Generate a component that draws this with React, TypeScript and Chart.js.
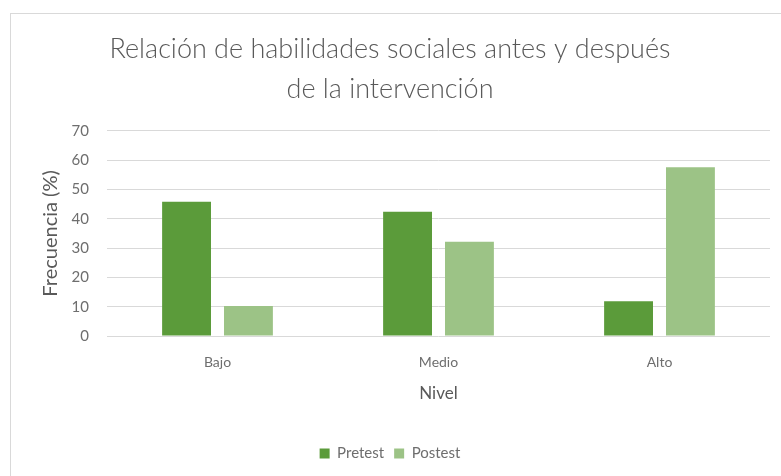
import React, { useEffect, useRef } from "react";
import { Chart, registerables } from "chart.js";

Chart.register(...registerables);

const categories = ["Bajo", "Medio", "Alto"];
const pretest = [45.8, 42.4, 11.9];
const postest = [10.2, 32.2, 57.6];
const yTicks = [0, 10, 20, 30, 40, 50, 60, 70];
const titleLines = ["Relación de habilidades sociales antes y después", "de la intervención"];

const TEXT = "#595959";
const TICK = "#6E6E6E";
const GRID = "#D9D9D9";
const FONT = "Lato, 'Open Sans', sans-serif";

export default function App() {
  const ref = useRef<HTMLCanvasElement | null>(null);

  useEffect(() => {
    if (!ref.current) return;
    const chart = new Chart(ref.current, {
      type: "bar",
      data: {
        labels: categories,
        datasets: [
          {
            label: "Pretest",
            data: pretest,
            backgroundColor: "#5B9B3A",
            categoryPercentage: 0.56,
            barPercentage: 0.79,
          },
          {
            label: "Postest",
            data: postest,
            backgroundColor: "#9CC386",
            categoryPercentage: 0.56,
            barPercentage: 0.79,
          },
        ],
      },
      options: {
        animation: false,
        responsive: true,
        maintainAspectRatio: false,
        layout: { padding: { left: 10, right: 11, top: 14, bottom: 5 } },
        plugins: {
          title: {
            display: true,
            text: titleLines,
            color: TEXT,
            font: { family: FONT, size: 27, weight: 300, lineHeight: 1.48 },
            padding: { top: 15, bottom: 22 },
          },
          legend: {
            position: "bottom",
            labels: {
              color: TICK,
              font: { family: FONT, size: 15 },
              boxWidth: 10,
              boxHeight: 10,
              padding: 10,
            },
          },
          tooltip: { enabled: false },
        },
        scales: {
          x: {
            grid: { display: false, drawTicks: false },
            border: { display: false },
            ticks: { color: TICK, font: { family: FONT, size: 14 }, padding: 18 },
            title: {
              display: true,
              text: "Nivel",
              color: TEXT,
              font: { family: FONT, size: 17 },
              padding: { top: 8, bottom: 32 },
            },
            afterFit: (scale: any) => {
              scale.height = 100;
            },
          },
          y: {
            min: 0,
            max: 70,
            afterBuildTicks: (scale: any) => {
              scale.ticks = yTicks.map((v) => ({ value: v }));
            },
            grid: { color: GRID, lineWidth: 1, drawTicks: false },
            border: { display: false },
            ticks: { color: TICK, font: { family: FONT, size: 15 }, padding: 18 },
            title: {
              display: true,
              text: "Frecuencia (%)",
              color: TEXT,
              font: { family: FONT, size: 20 },
              padding: { top: 29, bottom: 0 },
            },
            afterFit: (scale: any) => {
              scale.width = 97;
            },
          },
        },
      },
    });
    return () => chart.destroy();
  }, []);

  return (
    <div
      style={{
        position: "absolute",
        left: 0,
        top: 0,
        width: 781,
        height: 476,
        background: "#fff",
        overflow: "hidden",
      }}
    >
      <div
        style={{
          position: "absolute",
          left: 10,
          top: 13,
          right: -2,
          bottom: -2,
          border: "1px solid #D9D9D9",
        }}
      />
      <canvas ref={ref} style={{ position: "absolute", left: 0, top: 0, width: 781, height: 476 }} />
    </div>
  );
}
